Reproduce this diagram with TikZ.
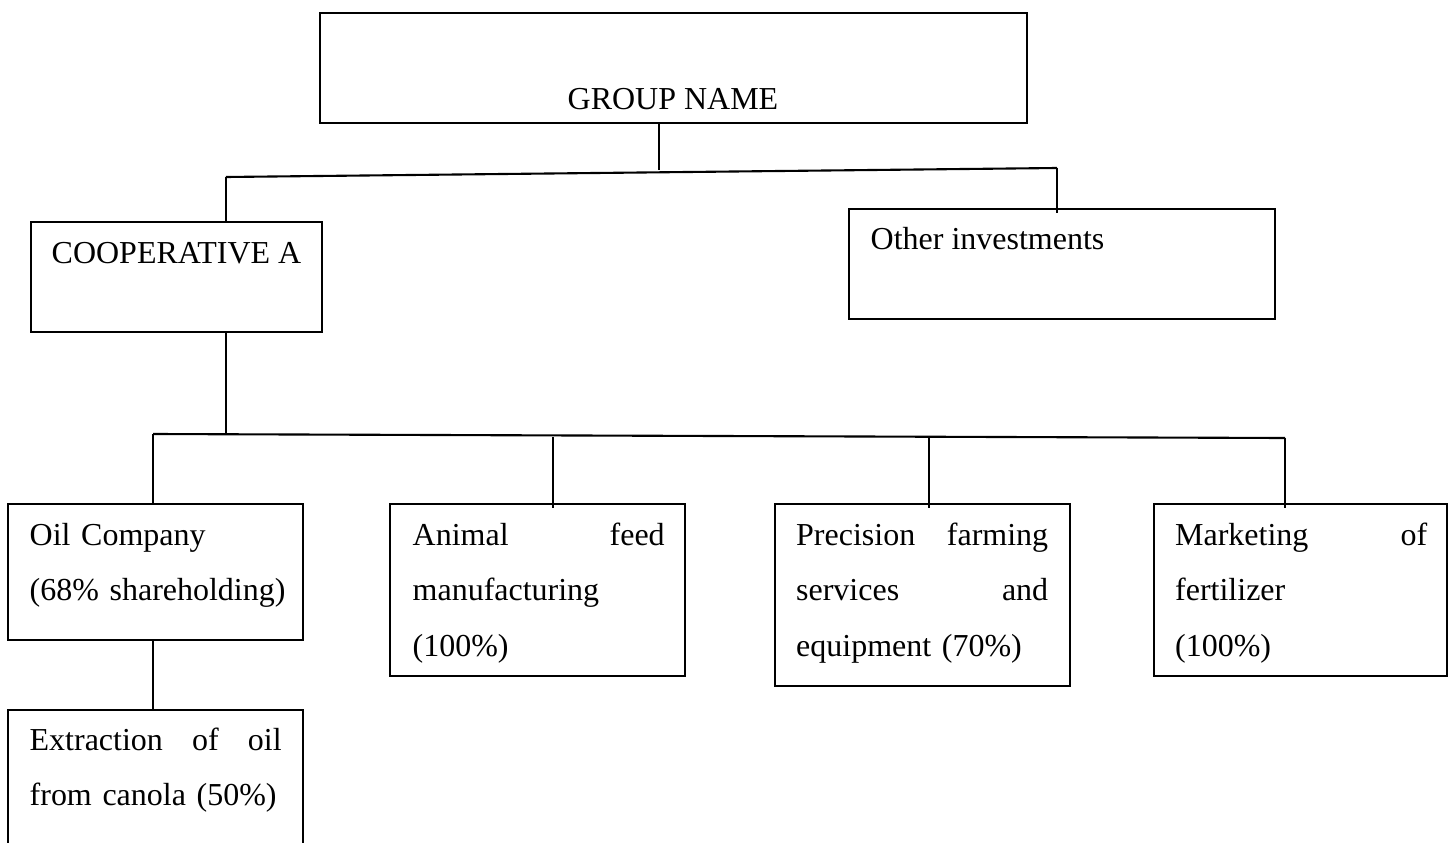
\documentclass[tikz,border=0pt]{standalone}
\usepackage{fontspec}
\setmainfont{Liberation Serif}
\usetikzlibrary{calc}

\begin{document}
\begin{tikzpicture}[
		box/.style={draw, line width=0.6pt, inner sep=0, outer sep=0, anchor=north west},
		txt/.style={inner sep=0, font=\fontsize{9.1}{15.8}\selectfont},
		para/.style={txt, text width=2.52cm, align=left, anchor=base west},
		link/.style={line width=0.6pt}
	]
		\useasboundingbox (0,0) rectangle (14.51,-8.43);
		\clip (0,0) rectangle (14.51,-8.43);
		% boxes
		\node[box, minimum width=7.07cm, minimum height=1.10cm] at (3.20,-0.13) (group) {};
		\node[box, minimum width=2.91cm, minimum height=1.10cm] at (0.31,-2.22) (coop) {};
		\node[box, minimum width=4.26cm, minimum height=1.10cm] at (8.49,-2.09) (other) {};
		\node[box, minimum width=2.95cm, minimum height=1.36cm] at (0.08,-5.04) (oil) {};
		\node[box, minimum width=2.95cm, minimum height=1.72cm] at (3.90,-5.04) (feed) {};
		\node[box, minimum width=2.95cm, minimum height=1.82cm] at (7.75,-5.04) (farming) {};
		\node[box, minimum width=2.93cm, minimum height=1.72cm] at (11.54,-5.04) (fertilizer) {};
		\node[box, minimum width=2.95cm, minimum height=1.60cm] at (0.08,-7.10) (canola) {};
		% texts
		\node[txt, anchor=base] at (6.73,-1.09) (groupText) {GROUP NAME};
		\node[txt, anchor=base west] at (0.51,-2.63) (coopText) {COOPERATIVE A};
		\node[txt, anchor=base west] at (8.70,-2.49) (otherText) {Other investments};
		\node[para] at (0.29,-5.45) (oilText) {Oil Company\\\mbox{(68\% shareholding)}};
		\node[para] at (4.12,-5.45) (feedText) {Animal\hfill feed\\manufacturing\\(100\%)};
		\node[para] at (7.955,-5.45) (farmingText) {Precision\hfill farming\\services\hfill and\\equipment (70\%)};
		\node[para] at (11.745,-5.45) (fertilizerText) {Marketing\hfill of\\fertilizer\\(100\%)};
		\node[para] at (0.29,-7.50) (canolaText) {Extraction\hfill of\hfill oil\\from canola (50\%)};
		% upper level
		\coordinate (topL) at (2.26,-1.77);
		\coordinate (topR) at (10.57,-1.68);
		\coordinate (groupTap) at (6.59,-1.70);
		\draw[link] (topL) -- (topR);
		\draw[link] (groupTap |- group.south) -- (groupTap);
		\draw[link] (topL) -- (topL |- coop.north);
		\draw[link] (topR) -- ++(0,-0.45);
		% lower level
		\coordinate (lowL) at (1.53,-4.34);
		\coordinate (lowR) at (12.85,-4.38);
		\draw[link] (lowL) -- (lowR);
		\draw[link] (topL |- coop.south) -- (2.26,-4.34);
		\draw[link] (lowL) -- (lowL |- oil.north);
		\draw[link] (5.53,-4.37) -- (5.53,-5.08);
		\draw[link] (9.29,-4.38) -- (9.29,-5.08);
		\draw[link] (lowR) -- (12.85,-5.08);
		\draw[link] (lowL |- oil.south) -- (lowL |- canola.north);
	\end{tikzpicture}
\end{document}
